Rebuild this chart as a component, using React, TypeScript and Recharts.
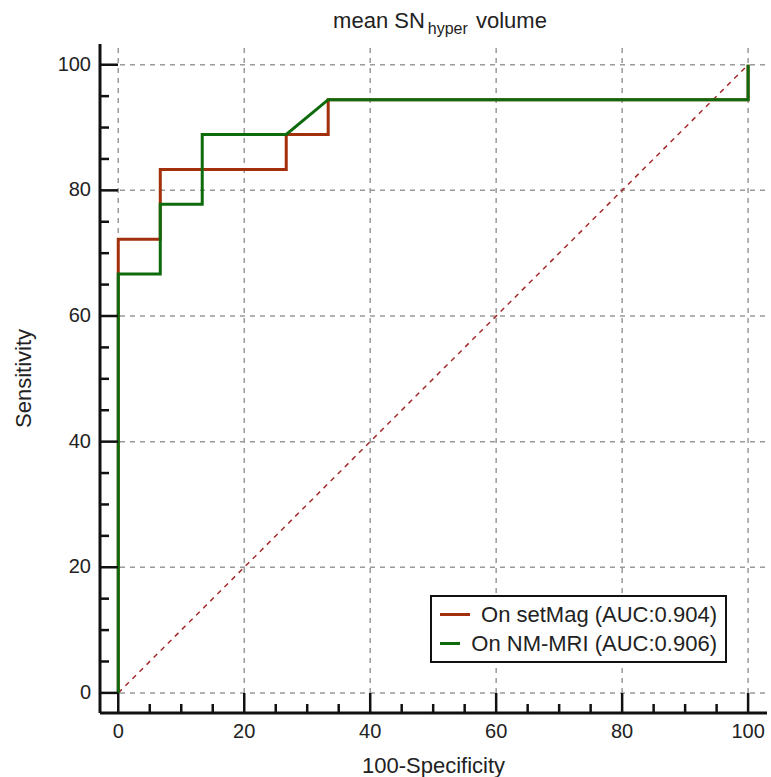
import React from 'react';
import { ComposedChart, Line, XAxis, YAxis, ReferenceLine, Legend } from 'recharts';

// ---- data ----
const setMagFpr = [0, 0, 6.67, 6.67, 26.67, 26.67, 33.33, 33.33, 100, 100];
const setMagTpr = [0, 72.22, 72.22, 83.33, 83.33, 88.89, 88.89, 94.44, 94.44, 100];
const nmMriFpr = [0, 0, 6.67, 6.67, 13.33, 13.33, 26.67, 33.33, 100, 100];
const nmMriTpr = [0, 66.67, 66.67, 77.78, 77.78, 88.89, 88.89, 94.44, 94.44, 100];
const diagFpr = [0, 100];
const diagTpr = [0, 100];
const tickValues = [0, 5, 10, 15, 20, 25, 30, 35, 40, 45, 50, 55, 60, 65, 70, 75, 80, 85, 90, 95, 100];
const gridValues = [0, 20, 40, 60, 80, 100];
const seriesNames = ['On setMag (AUC:0.904)', 'On NM-MRI (AUC:0.906)'];
const seriesColors = ['#a3300c', '#0d6b0d'];

const zip = (xs: number[], ys: number[]) => xs.map((x, i) => ({ x, y: ys[i] }));
const setMagData = zip(setMagFpr, setMagTpr);
const nmMriData = zip(nmMriFpr, nmMriTpr);
const diagData = zip(diagFpr, diagTpr);

const FONT = '"Liberation Sans", Arial, sans-serif';
const TICK_MARGIN = 8;
const TEXT = '#222';

const XTick = (props: any) => {
  const { x, y, payload } = props;
  const major = payload.value % 20 === 0;
  const axisY = y - TICK_MARGIN;
  return (
    <g>
      <line x1={x} x2={x} y1={axisY} y2={axisY - (major ? 20 : 9)} stroke="#111" strokeWidth={2.5} />
      {major && (
        <text x={x} y={axisY + 25} textAnchor="middle" fontSize={20} fill={TEXT} fontFamily={FONT}>
          {payload.value}
        </text>
      )}
    </g>
  );
};

const YTick = (props: any) => {
  const { x, y, payload } = props;
  const major = payload.value % 20 === 0;
  const axisX = x + TICK_MARGIN;
  return (
    <g>
      <line x1={axisX} x2={axisX + (major ? 18 : 9)} y1={y} y2={y} stroke="#111" strokeWidth={2.5} />
      {major && (
        <text x={axisX - 9} y={y + 6} textAnchor="end" fontSize={20} fill={TEXT} fontFamily={FONT}>
          {payload.value}
        </text>
      )}
    </g>
  );
};

const LegendBox = () => (
  <div
    style={{
      border: '2px solid #111',
      background: '#fff',
      padding: '3px 8px',
      fontFamily: FONT,
      fontSize: 22,
      color: TEXT,
      boxSizing: 'border-box',
      width: 297,
      height: 68,
    }}
  >
    {seriesNames.map((n, i) => (
      <div key={n} style={{ display: 'flex', alignItems: 'center', height: 29, whiteSpace: 'nowrap' }}>
        <span style={{ display: 'inline-block', width: 34, height: 3, background: seriesColors[i], marginRight: 11 }} />
        <span>{n}</span>
      </div>
    ))}
  </div>
);

export default function App() {
  return (
    <div style={{ position: 'absolute', left: 0, top: 0, width: 771, height: 777, background: '#fff', fontFamily: FONT }}>
      <div
        style={{
          position: 'absolute',
          left: 240,
          top: 9,
          width: 400,
          textAlign: 'center',
          fontSize: 22,
          lineHeight: '24px',
          color: TEXT,
          zIndex: 2,
          whiteSpace: 'nowrap',
        }}
      >
        mean SN<sub style={{ fontSize: 16, verticalAlign: -6, marginLeft: 3, marginRight: 2, lineHeight: 0 }}>hyper</sub> volume
      </div>
      <ComposedChart width={771} height={777} margin={{ top: 44, right: 4, left: 0, bottom: 0 }}>
        {gridValues.map((v) => (
          <ReferenceLine key={'gx' + v} x={v} stroke="#9a9a9a" strokeDasharray="5 5" strokeWidth={1.5} />
        ))}
        {gridValues.map((v) => (
          <ReferenceLine key={'gy' + v} y={v} stroke="#9a9a9a" strokeDasharray="5 5" strokeWidth={1.5} />
        ))}
        <XAxis
          type="number"
          dataKey="x"
          domain={[-2.9, 103]}
          ticks={tickValues}
          interval={0}
          tickSize={0}
          tickMargin={TICK_MARGIN}
          tick={<XTick />}
          axisLine={{ stroke: '#111', strokeWidth: 3 }}
          height={64}
          allowDataOverflow
          label={{ value: '100-Specificity', position: 'insideBottom', offset: 4, fontSize: 22, fill: TEXT, fontFamily: FONT }}
        />
        <YAxis
          type="number"
          dataKey="y"
          domain={[-3.2, 103.3]}
          ticks={tickValues}
          interval={0}
          tickSize={0}
          tickMargin={TICK_MARGIN}
          tick={<YTick />}
          axisLine={{ stroke: '#111', strokeWidth: 3 }}
          width={100}
          allowDataOverflow
          label={{
            value: 'Sensitivity',
            angle: -90,
            position: 'insideLeft',
            offset: 23,
            fontSize: 22,
            fill: TEXT,
            fontFamily: FONT,
            style: { textAnchor: 'middle' },
          }}
        />
        <Line
          data={diagData}
          dataKey="y"
          type="linear"
          stroke="#a52a2a"
          strokeWidth={1.5}
          strokeDasharray="5 5"
          dot={false}
          isAnimationActive={false}
          legendType="none"
        />
        <Line
          data={setMagData}
          dataKey="y"
          name={seriesNames[0]}
          type="linear"
          stroke={seriesColors[0]}
          strokeWidth={3}
          dot={false}
          isAnimationActive={false}
        />
        <Line
          data={nmMriData}
          dataKey="y"
          name={seriesNames[1]}
          type="linear"
          stroke={seriesColors[1]}
          strokeWidth={3}
          dot={false}
          isAnimationActive={false}
        />
        <Legend
          layout="vertical"
          align="center"
          verticalAlign="middle"
          content={() => <LegendBox />}
          wrapperStyle={{ position: 'absolute', left: 430, top: 595, bottom: 'auto', width: 297, height: 68 }}
        />
      </ComposedChart>
    </div>
  );
}
